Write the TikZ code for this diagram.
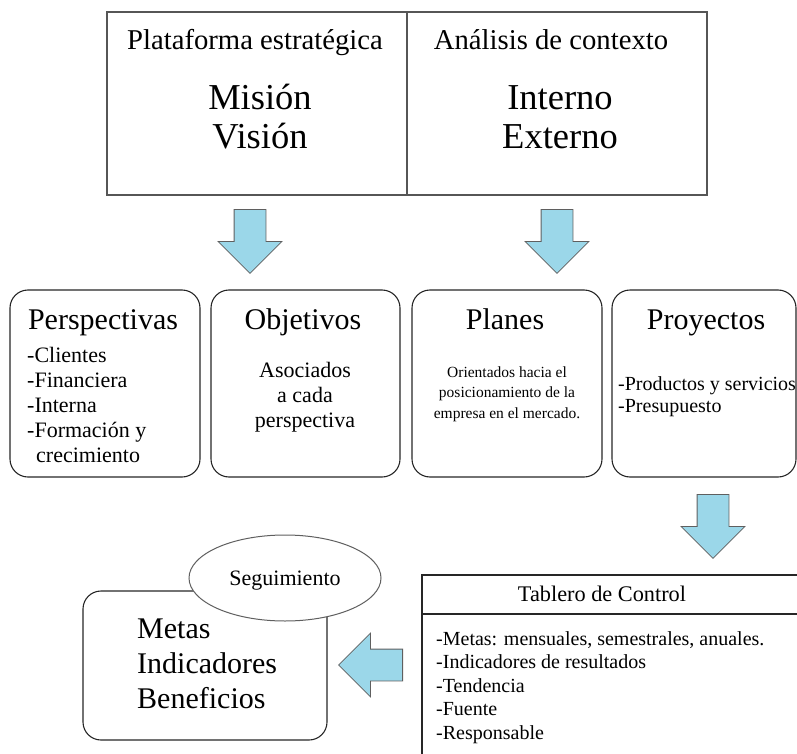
\documentclass[tikz,border=0pt]{standalone}
\usepackage{fontspec}
\setmainfont{Liberation Serif}
\usepackage{tikz}
\usetikzlibrary{shapes.arrows, shapes.geometric}

\definecolor{celeste}{RGB}{155,215,233}
\definecolor{gris}{RGB}{95,95,95}

\begin{document}
\begin{tikzpicture}[x=1pt, y=-1pt,
    panel/.style={draw=gris!90!black, line width=1.3pt, minimum width=300pt, minimum height=183pt, inner sep=0pt},
    caja/.style={draw=black!85, line width=1.1pt, rounded corners=18pt, minimum width=#1, minimum height=187pt, inner sep=0pt},
    flecha/.style={single arrow, draw=gris, fill=celeste, line width=0.8pt, minimum height=64pt,
        single arrow head extend=16pt, single arrow tip angle=90, inner sep=15.5pt, anchor=tail},
    titulo/.style={font=\fontsize{28.7}{34}\selectfont, anchor=base},
    grande/.style={font=\fontsize{36.5}{39}\selectfont, anchor=base, align=center},
    cabeza/.style={font=\fontsize{30}{34}\selectfont, anchor=base},
    texto/.style={inner sep=0pt, anchor=base west, align=left}]
        \def\fila{383.5}
        \clip (0,0) rectangle (797,754);
        % plataforma y contexto (base = ultima linea)
        \node[panel] (plat) at (257,103.5) {};
        \node[panel] (ctx) at (557,103.5) {};
        \node[titulo] (tplat) at (255,50) {Plataforma estratégica};
        \node[titulo] (tctx) at (551,50) {Análisis de contexto};
        \node[grande] (mision) at (260,149) {Misión\\Visión};
        \node[grande] (interno) at (560,149) {Interno\\Externo};
        \node[flecha, shape border rotate=270] (f1) at (250,209) {};
        \node[flecha, shape border rotate=270] (f2) at (557,209) {};
        % fila de cajas
        \node[caja=190pt] (persp) at (105,\fila) {};
        \node[caja=189pt] (obj) at (305.5,\fila) {};
        \node[caja=190pt] (planes) at (507,\fila) {};
        \node[caja=184pt] (proy) at (704,\fila) {};
        \node[cabeza] (tpersp) at (103,329) {Perspectivas};
        \node[cabeza] (tobj) at (303,329) {Objetivos};
        \node[cabeza] (tplanes) at (505,329) {Planes};
        \node[cabeza] (tproy) at (706,329) {Proyectos};
        \node[texto, font=\fontsize{22}{25}\selectfont] (lpersp) at (27,462)
            {-Clientes\\-Financiera\\-Interna\\-Formación y\\\hspace*{9pt}crecimiento};
        \node[texto, anchor=base, align=center, font=\fontsize{22}{25}\selectfont] (lobj) at (305,427)
            {Asociados\\a cada\\perspectiva};
        \node[texto, anchor=base, align=center, font=\fontsize{15.5}{20.5}\selectfont] (lplanes) at (507,418)
            {Orientados hacia el\\posicionamiento de la\\empresa en el mercado.};
        \node[texto, font=\fontsize{20}{22}\selectfont] (lproy) at (618,412)
            {-Productos y servicios\\-Presupuesto};
        \node[flecha, shape border rotate=270] (f3) at (713,494) {};
        % tablero de control
        \node[draw=black!85, line width=1.1pt, minimum width=378pt, minimum height=39pt, inner sep=0pt] (tabhead) at (611,594.5) {};
        \node[draw=black!85, line width=1.1pt, minimum width=378pt, minimum height=143pt, inner sep=0pt] (tabbody) at (611,685.5) {};
        \node[font=\fontsize{22.3}{26}\selectfont, anchor=base] (ttab) at (602,601) {Tablero de Control};
        \node[texto, font=\fontsize{20}{23.5}\selectfont] (ltab) at (436,739)
            {-Metas: mensuales, semestrales, anuales.\\-Indicadores de resultados\\-Tendencia\\-Fuente\\-Responsable};
        \node[flecha, shape border rotate=180] (f4) at (403,665) {};
        % metas y seguimiento
        \node[draw=black!85, line width=1.1pt, rounded corners=18pt, minimum width=244pt, minimum height=149pt, inner sep=0pt] (metas) at (205,665.5) {};
        \node[ellipse, draw=gris, line width=1pt, fill=white, minimum width=192pt, minimum height=86pt, inner sep=0pt] (seg) at (285,578) {};
        \node[font=\fontsize{22}{26}\selectfont, anchor=base] (tseg) at (285,585) {Seguimiento};
        \node[texto, font=\fontsize{30}{35}\selectfont] (lmetas) at (137,708)
            {Metas\\Indicadores\\Beneficios};
\end{tikzpicture}
\end{document}
